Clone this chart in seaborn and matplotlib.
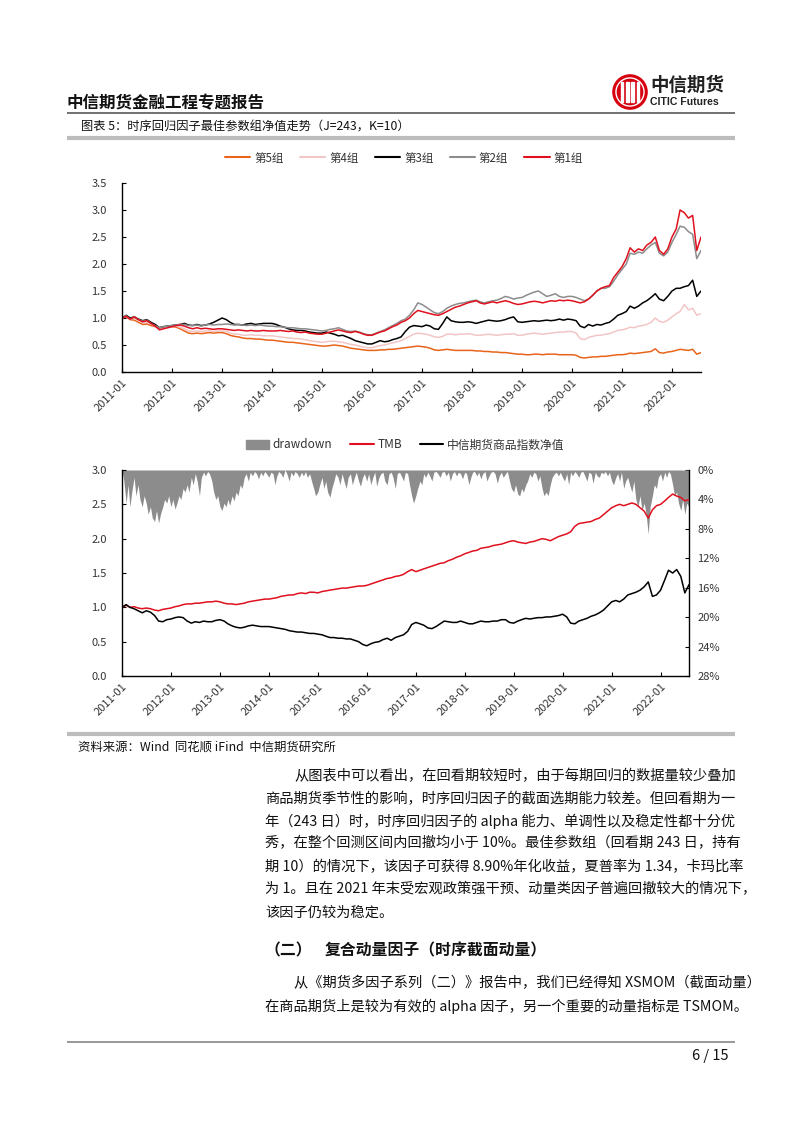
import numpy as np
import pandas as pd
import matplotlib
matplotlib.use('Agg')
import matplotlib.pyplot as plt
import matplotlib.dates as mdates
from matplotlib.ticker import FuncFormatter, FormatStrFormatter
from matplotlib.patches import Circle, Rectangle, Patch
from matplotlib.lines import Line2D
import seaborn as sns

# ---------------- data (monthly, 2011-01 .. 2022-08) ----------------
start_month = '2011-01-01'

group_names = ['第5组', '第4组', '第3组', '第2组', '第1组']

g1 = [1.00, 1.03, 0.98, 1.02, 0.97, 0.93, 0.95, 0.90, 0.85, 0.78, 0.80, 0.82,
      0.84, 0.86, 0.87, 0.85, 0.82, 0.80, 0.82, 0.80, 0.81, 0.80, 0.79, 0.80,
      0.80, 0.79, 0.78, 0.77, 0.78, 0.77, 0.76, 0.77, 0.76, 0.76, 0.77, 0.76,
      0.76, 0.76, 0.77, 0.76, 0.75, 0.76, 0.74, 0.73, 0.74, 0.72, 0.71, 0.70,
      0.70, 0.72, 0.74, 0.76, 0.78, 0.76, 0.74, 0.73, 0.75, 0.73, 0.70, 0.68,
      0.68, 0.71, 0.74, 0.76, 0.80, 0.84, 0.87, 0.92, 0.95, 1.00, 1.08, 1.14,
      1.12, 1.10, 1.08, 1.06, 1.05, 1.08, 1.12, 1.16, 1.20, 1.22, 1.25, 1.28,
      1.30, 1.32, 1.28, 1.26, 1.28, 1.30, 1.28, 1.30, 1.32, 1.30, 1.27, 1.25,
      1.26, 1.28, 1.30, 1.31, 1.30, 1.28, 1.30, 1.32, 1.31, 1.33, 1.32, 1.33,
      1.32, 1.30, 1.28, 1.30, 1.35, 1.42, 1.50, 1.55, 1.58, 1.60, 1.75, 1.85,
      1.95, 2.10, 2.30, 2.22, 2.28, 2.25, 2.35, 2.40, 2.50, 2.25, 2.18, 2.28,
      2.50, 2.65, 3.00, 2.95, 2.85, 2.90, 2.25, 2.50]

g2 = [1.00, 1.04, 0.98, 1.02, 0.97, 0.94, 0.96, 0.90, 0.86, 0.82, 0.84, 0.85,
      0.86, 0.87, 0.88, 0.88, 0.86, 0.86, 0.87, 0.85, 0.87, 0.88, 0.87, 0.88,
      0.88, 0.89, 0.88, 0.87, 0.88, 0.87, 0.86, 0.87, 0.86, 0.87, 0.86, 0.85,
      0.85, 0.84, 0.84, 0.83, 0.82, 0.82, 0.81, 0.80, 0.80, 0.79, 0.78, 0.77,
      0.76, 0.77, 0.79, 0.80, 0.82, 0.79, 0.76, 0.75, 0.76, 0.74, 0.71, 0.69,
      0.69, 0.72, 0.75, 0.78, 0.82, 0.86, 0.90, 0.95, 0.98, 1.05, 1.15, 1.28,
      1.25, 1.20, 1.15, 1.10, 1.08, 1.12, 1.18, 1.22, 1.25, 1.27, 1.28, 1.30,
      1.32, 1.33, 1.30, 1.28, 1.30, 1.32, 1.33, 1.36, 1.40, 1.38, 1.35, 1.37,
      1.38, 1.42, 1.45, 1.48, 1.50, 1.45, 1.40, 1.42, 1.45, 1.40, 1.38, 1.40,
      1.40, 1.38, 1.35, 1.32, 1.35, 1.42, 1.50, 1.55, 1.55, 1.58, 1.68, 1.80,
      1.90, 2.00, 2.20, 2.18, 2.22, 2.20, 2.28, 2.35, 2.40, 2.20, 2.15, 2.22,
      2.40, 2.55, 2.70, 2.68, 2.60, 2.55, 2.10, 2.25]

g3 = [1.00, 1.05, 1.00, 1.02, 0.98, 0.95, 0.97, 0.92, 0.88, 0.82, 0.84, 0.85,
      0.86, 0.87, 0.88, 0.90, 0.87, 0.86, 0.88, 0.86, 0.87, 0.89, 0.92, 0.96,
      1.00, 0.97, 0.92, 0.88, 0.88, 0.87, 0.89, 0.90, 0.88, 0.89, 0.90, 0.90,
      0.90, 0.88, 0.85, 0.83, 0.80, 0.78, 0.77, 0.77, 0.76, 0.74, 0.73, 0.72,
      0.72, 0.74, 0.72, 0.70, 0.67, 0.68, 0.65, 0.62, 0.58, 0.56, 0.54, 0.52,
      0.52, 0.55, 0.58, 0.56, 0.57, 0.60, 0.62, 0.65, 0.75, 0.83, 0.86, 0.85,
      0.84, 0.87, 0.85, 0.80, 0.79, 0.90, 1.02, 0.95, 0.93, 0.92, 0.92, 0.93,
      0.92, 0.90, 0.92, 0.94, 0.96, 0.95, 0.94, 0.95, 0.97, 1.00, 1.02, 0.93,
      0.92, 0.93, 0.94, 0.95, 0.94, 0.95, 0.96, 0.95, 0.96, 0.98, 0.96, 0.98,
      0.97, 0.95, 0.85, 0.82, 0.88, 0.85, 0.88, 0.87, 0.90, 0.92, 0.98, 1.05,
      1.08, 1.12, 1.22, 1.18, 1.22, 1.28, 1.32, 1.38, 1.45, 1.35, 1.32, 1.40,
      1.50, 1.55, 1.55, 1.58, 1.60, 1.70, 1.40, 1.50]

g4 = [1.00, 1.03, 0.98, 1.00, 0.96, 0.92, 0.93, 0.89, 0.85, 0.80, 0.82, 0.83,
      0.84, 0.85, 0.83, 0.80, 0.76, 0.75, 0.76, 0.75, 0.76, 0.76, 0.75, 0.76,
      0.76, 0.75, 0.72, 0.70, 0.70, 0.68, 0.68, 0.69, 0.68, 0.68, 0.67, 0.67,
      0.67, 0.66, 0.65, 0.64, 0.63, 0.62, 0.62, 0.61, 0.60, 0.58, 0.57, 0.56,
      0.55, 0.56, 0.57, 0.57, 0.56, 0.55, 0.53, 0.51, 0.50, 0.48, 0.46, 0.45,
      0.45, 0.47, 0.49, 0.50, 0.52, 0.54, 0.56, 0.58, 0.62, 0.66, 0.70, 0.72,
      0.71, 0.70, 0.68, 0.65, 0.64, 0.66, 0.70, 0.70, 0.69, 0.70, 0.70, 0.71,
      0.70, 0.68, 0.68, 0.69, 0.70, 0.69, 0.68, 0.69, 0.70, 0.70, 0.71, 0.68,
      0.68, 0.70, 0.71, 0.72, 0.71, 0.70, 0.71, 0.72, 0.73, 0.74, 0.74, 0.75,
      0.75, 0.72, 0.62, 0.60, 0.64, 0.66, 0.68, 0.68, 0.70, 0.71, 0.74, 0.77,
      0.78, 0.80, 0.83, 0.82, 0.85, 0.86, 0.88, 0.92, 1.00, 0.94, 0.92, 0.96,
      1.02, 1.08, 1.12, 1.25, 1.15, 1.18, 1.05, 1.08]

g5 = [1.00, 1.02, 0.97, 0.96, 0.92, 0.88, 0.89, 0.86, 0.84, 0.82, 0.83, 0.84,
      0.84, 0.83, 0.80, 0.76, 0.72, 0.71, 0.72, 0.71, 0.72, 0.73, 0.72, 0.73,
      0.73, 0.71, 0.68, 0.66, 0.65, 0.63, 0.62, 0.62, 0.61, 0.61, 0.60, 0.59,
      0.59, 0.58, 0.57, 0.56, 0.55, 0.55, 0.54, 0.53, 0.52, 0.51, 0.50, 0.49,
      0.48, 0.48, 0.49, 0.50, 0.49, 0.48, 0.46, 0.44, 0.43, 0.42, 0.41, 0.40,
      0.40, 0.40, 0.41, 0.41, 0.42, 0.42, 0.43, 0.44, 0.45, 0.46, 0.47, 0.48,
      0.47, 0.46, 0.44, 0.41, 0.40, 0.41, 0.42, 0.41, 0.40, 0.40, 0.40, 0.40,
      0.40, 0.39, 0.39, 0.38, 0.38, 0.37, 0.37, 0.36, 0.36, 0.35, 0.34, 0.33,
      0.33, 0.32, 0.32, 0.33, 0.33, 0.32, 0.33, 0.33, 0.33, 0.32, 0.32, 0.32,
      0.32, 0.31, 0.27, 0.26, 0.27, 0.28, 0.28, 0.29, 0.29, 0.30, 0.31, 0.32,
      0.32, 0.33, 0.35, 0.34, 0.35, 0.36, 0.37, 0.38, 0.43, 0.36, 0.35, 0.37,
      0.38, 0.40, 0.42, 0.41, 0.40, 0.42, 0.33, 0.36]

tmb = [1.00, 1.03, 1.00, 1.01, 0.99, 0.98, 0.99, 0.98, 0.96, 0.95, 0.97, 0.98,
       0.99, 1.01, 1.02, 1.04, 1.05, 1.05, 1.06, 1.06, 1.07, 1.08, 1.08, 1.09,
       1.08, 1.06, 1.05, 1.05, 1.04, 1.05, 1.06, 1.08, 1.09, 1.10, 1.11, 1.12,
       1.12, 1.13, 1.14, 1.16, 1.17, 1.18, 1.18, 1.20, 1.21, 1.20, 1.22, 1.22,
       1.21, 1.23, 1.24, 1.25, 1.26, 1.27, 1.28, 1.28, 1.29, 1.30, 1.31, 1.31,
       1.32, 1.34, 1.36, 1.38, 1.40, 1.42, 1.43, 1.45, 1.46, 1.48, 1.52, 1.55,
       1.52, 1.54, 1.56, 1.58, 1.60, 1.62, 1.64, 1.65, 1.68, 1.70, 1.73, 1.75,
       1.78, 1.80, 1.82, 1.83, 1.86, 1.87, 1.88, 1.90, 1.91, 1.92, 1.94, 1.96,
       1.97, 1.95, 1.94, 1.93, 1.95, 1.96, 1.98, 2.00, 1.99, 1.97, 2.00, 2.03,
       2.05, 2.07, 2.10, 2.18, 2.22, 2.23, 2.24, 2.25, 2.28, 2.30, 2.35, 2.40,
       2.45, 2.48, 2.50, 2.48, 2.50, 2.52, 2.50, 2.45, 2.40, 2.30, 2.42, 2.48,
       2.50, 2.55, 2.60, 2.65, 2.62, 2.60, 2.55, 2.57]

index_nav = [1.00, 1.04, 1.00, 0.98, 0.95, 0.92, 0.95, 0.93, 0.88, 0.80, 0.79, 0.82,
             0.83, 0.85, 0.86, 0.85, 0.80, 0.77, 0.79, 0.78, 0.80, 0.79, 0.79, 0.81,
             0.82, 0.80, 0.76, 0.73, 0.71, 0.70, 0.71, 0.73, 0.74, 0.73, 0.72, 0.72,
             0.72, 0.71, 0.70, 0.69, 0.68, 0.66, 0.65, 0.64, 0.64, 0.63, 0.62, 0.62,
             0.61, 0.60, 0.58, 0.56, 0.56, 0.55, 0.55, 0.54, 0.54, 0.52, 0.50, 0.46,
             0.44, 0.47, 0.49, 0.50, 0.53, 0.55, 0.52, 0.56, 0.58, 0.60, 0.65, 0.75,
             0.78, 0.76, 0.74, 0.70, 0.69, 0.72, 0.76, 0.80, 0.79, 0.78, 0.78, 0.80,
             0.78, 0.76, 0.76, 0.78, 0.80, 0.79, 0.79, 0.80, 0.80, 0.82, 0.82, 0.78,
             0.77, 0.80, 0.82, 0.84, 0.83, 0.84, 0.85, 0.85, 0.86, 0.86, 0.87, 0.88,
             0.90, 0.86, 0.77, 0.76, 0.80, 0.82, 0.84, 0.87, 0.89, 0.92, 0.96, 1.02,
             1.08, 1.10, 1.08, 1.12, 1.18, 1.20, 1.22, 1.25, 1.30, 1.37, 1.16, 1.18,
             1.25, 1.40, 1.54, 1.50, 1.55, 1.45, 1.21, 1.33]

# drawdown in %, half-monthly (1st and 15th of each month)
drawdown_pct = [
    0.0, 1.5, 4.5, 2.0, 5.0, 3.0, 1.0, 3.5, 2.0, 4.0, 5.0, 3.5, 4.5, 6.0, 5.0, 6.5, 7.0, 5.5, 7.2, 6.0, 5.0, 4.0, 4.5, 3.5,
    5.0, 4.0, 5.3, 4.5, 3.5, 4.0, 2.5, 3.0, 2.0, 3.0, 1.0, 2.0, 0.5, 1.5, 3.5, 1.0, 0.3, 0.8, 0.2, 0.5, 1.5, 3.0, 4.0, 3.5,
    5.0, 5.5, 4.5, 5.0, 4.0, 4.8, 3.5, 4.2, 3.0, 3.5, 2.0, 2.5, 1.0, 0.5, 1.5, 0.3, 0.8, 0.2, 0.5, 1.2, 0.3, 0.8, 0.2, 0.5,
    1.0, 0.3, 0.5, 2.0, 0.8, 0.2, 0.5, 1.0, 0.0, 0.5, 1.5, 0.3, 0.8, 0.2, 0.5, 1.0, 0.3, 0.8, 0.2, 1.0, 0.5, 1.5, 2.5, 3.5,
    3.0, 2.0, 1.0, 2.5, 1.5, 3.0, 3.7, 2.5, 1.5, 0.5, 1.0, 2.0, 0.5, 1.5, 2.5, 1.0, 0.5, 2.0, 1.0, 0.3, 1.5, 2.2, 1.0, 0.5,
    1.5, 0.5, 2.0, 1.0, 0.3, 2.2, 1.0, 0.5, 0.3, 1.5, 2.0, 0.5, 0.3, 1.0, 2.5, 0.5, 0.3, 0.8, 1.5, 0.3, 0.5, 2.0, 3.5, 4.5,
    3.5, 2.5, 1.5, 2.0, 0.5, 1.0, 0.3, 0.8, 1.5, 0.3, 0.2, 0.5, 1.0, 0.3, 0.2, 0.8, 0.3, 1.5, 0.5, 0.2, 0.8, 0.3, 0.5, 1.2,
    0.3, 0.5, 2.0, 1.0, 0.3, 0.2, 0.8, 0.3, 1.2, 0.5, 0.2, 1.5, 0.8, 0.3, 0.2, 0.5, 1.8, 0.8, 0.3, 1.0, 0.5, 0.2, 1.5, 2.5,
    3.0, 2.0, 3.3, 3.5, 2.5, 3.0, 2.0, 1.5, 0.5, 1.0, 0.3, 0.5, 1.5, 0.8, 2.5, 3.5, 3.0, 3.5, 2.0, 1.0, 0.5, 0.3, 0.8, 0.3,
    1.0, 1.5, 0.5, 2.0, 0.3, 0.8, 0.2, 0.5, 1.0, 0.3, 0.2, 0.8, 1.5, 0.3, 0.5, 1.8, 0.3, 0.8, 1.0, 0.3, 0.5, 0.2, 0.8, 0.3,
    1.5, 2.0, 1.0, 0.5, 1.5, 0.3, 2.5, 1.5, 1.0, 2.0, 3.0, 1.5, 4.0, 5.0, 3.5, 5.5, 4.5, 6.0, 8.7, 5.0, 3.5, 2.0, 2.5, 1.0,
    0.5, 1.5, 0.3, 1.0, 0.2, 0.5, 2.0, 3.5, 3.0, 4.5, 5.5, 4.0, 6.0, 4.5, 5.0, 3.0]

y1_ticks = [0.0, 0.5, 1.0, 1.5, 2.0, 2.5, 3.0, 3.5]
y2_ticks = [0.0, 0.5, 1.0, 1.5, 2.0, 2.5, 3.0]
dd_ticks = [0, 4, 8, 12, 16, 20, 24, 28]

# ---------------- styling ----------------
sns.set_theme(style='white')
plt.rcParams['font.family'] = ['Noto Sans CJK SC', 'DejaVu Sans']
plt.rcParams['axes.unicode_minus'] = False

W, H = 802, 1133
fig = plt.figure(figsize=(W / 100, H / 100), dpi=100)
fig.patch.set_facecolor('white')


def fx(x):
    return x / W


def fy(y):
    return 1 - y / H


def hline(x0, x1, y, color, lw):
    fig.add_artist(Line2D([fx(x0), fx(x1)], [fy(y), fy(y)], color=color, lw=lw,
                          transform=fig.transFigure, solid_capstyle='butt'))


TXT = '#111111'

# ---------------- page header ----------------
fig.text(fx(67), fy(103), '中信期货金融工程专题报告', fontsize=11.9, fontweight='bold',
         color=TXT, ha='left', va='center')
hline(67, 735, 113, '#666666', 1.3)

# logo
lax = fig.add_axes([fx(612), fy(110), 36 / W, 36 / H])
lax.set_xlim(-1, 1)
lax.set_ylim(-1, 1)
lax.set_aspect('equal')
lax.axis('off')
lax.add_patch(Circle((0, 0), 0.95, color='#D7000F'))
lax.add_patch(Circle((0, 0), 0.78, fill=False, ec='white', lw=1.0))
for bx in [-0.45, -0.15, 0.15, 0.45]:
    lax.add_patch(Rectangle((bx - 0.07, -0.55), 0.14, 1.1, color='white'))
fig.text(fx(650), fy(85), '中信期货', fontsize=13.3, fontweight='bold', color='#222222',
         ha='left', va='center')
fig.text(fx(650), fy(102), 'CITIC Futures', fontsize=7.6, fontweight='bold', color='#222222',
         ha='left', va='center', family=['Liberation Sans Narrow', 'Liberation Sans', 'DejaVu Sans'])

# caption
fig.text(fx(81), fy(127), '图表 5：时序回归因子最佳参数组净值走势（J=243，K=10）', fontsize=8.8,
         color=TXT, ha='left', va='center')
hline(67, 735, 138, '#BDBDBD', 3.0)

# ---------------- chart 1 ----------------
dates = pd.date_range(start_month, periods=len(g1), freq='MS')
dd_dates = pd.date_range(start_month, periods=len(drawdown_pct), freq='SMS')
series1 = {'第5组': g5, '第4组': g4, '第3组': g3, '第2组': g2, '第1组': g1}
pal1 = {'第5组': '#E8641B', '第4组': '#F2C6C6', '第3组': '#000000',
        '第2组': '#8C8C8C', '第1组': '#E0101E'}
df1 = pd.concat([pd.DataFrame({'date': dates, 'value': v, 'group': k})
                 for k, v in series1.items()], ignore_index=True)

ax1 = fig.add_axes([fx(122), fy(372), (701 - 122) / W, (372 - 183) / H])
sns.lineplot(data=df1, x='date', y='value', hue='group', hue_order=group_names,
             palette=pal1, ax=ax1, legend=False, linewidth=1.1)


def style_axis(ax, yticks, ylim):
    ax.set_xlabel('')
    ax.set_ylabel('')
    ax.set_ylim(*ylim)
    ax.set_yticks(yticks)
    ax.yaxis.set_major_formatter(FormatStrFormatter('%.1f'))
    ax.set_xlim(dates[0], dates[-1])
    ax.xaxis.set_major_locator(mdates.YearLocator())
    ax.xaxis.set_major_formatter(mdates.DateFormatter('%Y-%m'))
    for s in ['top', 'right']:
        ax.spines[s].set_visible(False)
    for s in ['left', 'bottom']:
        ax.spines[s].set_visible(True)
        ax.spines[s].set_color('black')
        ax.spines[s].set_linewidth(1.0)
    ax.tick_params(axis='both', which='major', direction='in', length=3, width=0.8,
                   color='black', labelcolor='#333333', labelsize=8,
                   bottom=True, left=True)
    ax.tick_params(axis='y', pad=11)
    ax.tick_params(axis='x', pad=4)
    for lab in ax.get_xticklabels():
        lab.set_rotation(45)
        lab.set_ha('right')
        lab.set_va('top')
        lab.set_rotation_mode('anchor')
    ax.grid(False)


style_axis(ax1, y1_ticks, (0, 3.5))

leg1 = [Line2D([], [], color=pal1[k], lw=1.5) for k in group_names]
fig.legend(leg1, group_names, loc='center', bbox_to_anchor=(fx(404), fy(158)), ncol=5,
           frameon=False, fontsize=8.3, handlelength=2.2, handletextpad=0.35,
           columnspacing=1.4, labelcolor='#333333')

# ---------------- chart 2 ----------------
ax2 = fig.add_axes([fx(122), fy(676), (689 - 122) / W, (676 - 470) / H])
ax2r = ax2.twinx()
dd_frac = np.array(drawdown_pct) / 100.0
ax2r.fill_between(dd_dates, 0, dd_frac, color='#8C8C8C', lw=0)
ax2r.set_ylim(0.28, 0)
ax2r.set_yticks(np.array(dd_ticks) / 100.0)
ax2r.yaxis.set_major_formatter(FuncFormatter(lambda v, p: f'{v * 100:.0f}%'))
ax2r.tick_params(axis='y', direction='in', length=3, width=0.8, color='black',
                 labelcolor='#333333', labelsize=8, pad=6, right=True)
for s in ['top', 'left', 'bottom']:
    ax2r.spines[s].set_visible(False)
ax2r.spines['right'].set_visible(True)
ax2r.spines['right'].set_color('black')
ax2r.spines['right'].set_linewidth(1.0)
ax2r.grid(False)

ax2.set_zorder(ax2r.get_zorder() + 1)
ax2.patch.set_visible(False)

series2 = {'TMB': tmb, '中信期货商品指数净值': index_nav}
pal2 = {'TMB': '#E0101E', '中信期货商品指数净值': '#000000'}
df2 = pd.concat([pd.DataFrame({'date': dates, 'value': v, 'series': k})
                 for k, v in series2.items()], ignore_index=True)
sns.lineplot(data=df2, x='date', y='value', hue='series',
             hue_order=['TMB', '中信期货商品指数净值'], palette=pal2, ax=ax2,
             legend=False, linewidth=1.1)
style_axis(ax2, y2_ticks, (0, 3.0))
ax2r.set_xlim(dates[0], dates[-1])

leg2_handles = [Patch(color='#8C8C8C'), Line2D([], [], color='#E0101E', lw=1.5),
                Line2D([], [], color='#000000', lw=1.5)]
fig.legend(leg2_handles, ['drawdown', 'TMB', '中信期货商品指数净值'], loc='center',
           bbox_to_anchor=(fx(405), fy(445)), ncol=3, frameon=False, fontsize=8.5,
           handlelength=2.0, handletextpad=0.3, columnspacing=1.5, labelcolor='#333333')

# ---------------- source & body ----------------
hline(67, 735, 734, '#BDBDBD', 3.0)
fig.text(fx(78), fy(747), '资料来源：Wind  同花顺 iFind  中信期货研究所', fontsize=8.9,
         color=TXT, ha='left', va='center')

body_lines = [
    (294, 776, '从图表中可以看出，在回看期较短时，由于每期回归的数据量较少叠加'),
    (265, 799, '商品期货季节性的影响，时序回归因子的截面选期能力较差。但回看期为一'),
    (265, 821, '年（243 日）时，时序回归因子的 alpha 能力、单调性以及稳定性都十分优'),
    (265, 843, '秀，在整个回测区间内回撤均小于 10%。最佳参数组（回看期 243 日，持有'),
    (265, 867, '期 10）的情况下，该因子可获得 8.90%年化收益，夏普率为 1.34，卡玛比率'),
    (265, 889, '为 1。且在 2021 年末受宏观政策强干预、动量类因子普遍回撤较大的情况下，'),
    (265, 913, '该因子仍较为稳定。'),
    (294, 983, '从《期货多因子系列（二）》报告中，我们已经得知 XSMOM（截面动量）'),
    (265, 1006, '在商品期货上是较为有效的 alpha 因子，另一个重要的动量指标是 TSMOM。'),
]
for x, y, s in body_lines:
    fig.text(fx(x), fy(y), s, fontsize=10.25, color=TXT, ha='left', va='center')

fig.text(fx(265), fy(950), '（二）', fontsize=11.4, fontweight='bold', color=TXT,
         ha='left', va='center')
fig.text(fx(325), fy(950), '复合动量因子（时序截面动量）', fontsize=11.4, fontweight='bold',
         color=TXT, ha='left', va='center')

# ---------------- footer ----------------
hline(67, 735, 1042, '#888888', 1.2)
fig.text(fx(728), fy(1056), '6 / 15', fontsize=10.5, color=TXT, ha='right', va='center')

fig.savefig('out.png', dpi=100, facecolor='white')
